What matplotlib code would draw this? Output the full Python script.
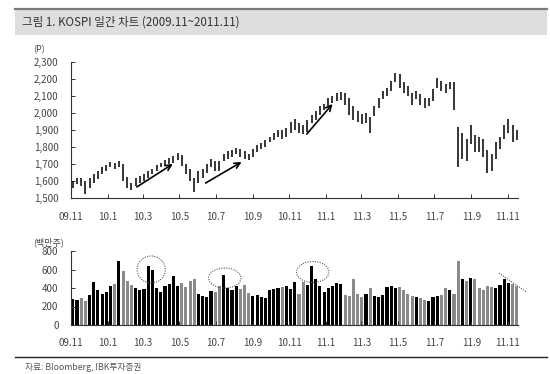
import numpy as np
import pandas as pd
import matplotlib
matplotlib.use("Agg")
import matplotlib.pyplot as plt
import matplotlib.dates as mdates
from matplotlib.patches import Ellipse, Rectangle
from matplotlib.lines import Line2D
from matplotlib.ticker import FuncFormatter

plt.rcParams['font.family'] = ['Noto Sans CJK KR', 'DejaVu Sans']

# weekly KOSPI high / low (pt), weeks starting 2009-11-02
week_start = pd.date_range("2009-11-02", periods=107, freq="7D")

week_high = [
    1600, 1620, 1615, 1600, 1620, 1640, 1660, 1680, 1695, 1710,   # 09.11 - 10.1
    1705, 1720, 1700, 1625, 1590, 1620, 1630, 1640, 1660, 1670,   # 10.1 - 10.3
    1695, 1705, 1725, 1735, 1745, 1765, 1755, 1700, 1670, 1620,   # 10.3 - 10.5
    1660, 1670, 1700, 1730, 1720, 1715, 1760, 1775, 1785, 1795,   # 10.6 - 10.8
    1790, 1775, 1760, 1790, 1810, 1825, 1840, 1860, 1880, 1900,   # 10.8 - 10.10
    1900, 1910, 1945, 1965, 1940, 1930, 1960, 1990, 2010, 2040,   # 10.10 - 10.12
    2055, 2090, 2100, 2115, 2125, 2120, 2090, 2040, 2010, 1995,   # 10.12 - 11.2
    2000, 1975, 2040, 2090, 2130, 2150, 2190, 2235, 2230, 2180,   # 11.3 - 11.5
    2160, 2120, 2130, 2110, 2090, 2090, 2140, 2205, 2190, 2170,   # 11.5 - 11.7
    2185, 2180, 1920, 1880, 1850, 1930, 1870, 1860, 1850, 1780,   # 11.7 - 11.9
    1760, 1830, 1860, 1930, 1965, 1930, 1900,                     # 11.10 - 11.11
]

week_low = [
    1560, 1580, 1570, 1525, 1560, 1590, 1610, 1640, 1660, 1680,
    1670, 1680, 1600, 1560, 1545, 1570, 1590, 1600, 1620, 1640,
    1660, 1680, 1690, 1700, 1705, 1725, 1690, 1640, 1600, 1535,
    1590, 1620, 1650, 1680, 1660, 1660, 1720, 1730, 1740, 1760,
    1740, 1730, 1725, 1740, 1770, 1790, 1800, 1830, 1840, 1860,
    1850, 1860, 1880, 1900, 1880, 1875, 1890, 1940, 1960, 1990,
    2020, 2040, 2060, 2070, 2075, 2050, 1990, 1960, 1950, 1935,
    1940, 1885, 1980, 2030, 2080, 2100, 2130, 2180, 2150, 2120,
    2100, 2045, 2080, 2050, 2030, 2040, 2070, 2150, 2130, 2120,
    2140, 2020, 1685, 1730, 1720, 1820, 1770, 1770, 1740, 1650,
    1660, 1730, 1790, 1850, 1880, 1830, 1840,
]

# weekly trading volume (million shares)
week_volume = [
    280, 270, 290, 260, 320, 470, 380, 330, 360, 420,
    440, 690, 580, 480, 430, 400, 380, 390, 640, 600,
    400, 360, 420, 440, 530, 420, 450, 410, 480, 500,
    330, 310, 300, 370, 360, 420, 540, 400, 380, 420,
    390, 430, 350, 310, 320, 300, 290, 380, 390, 400,
    410, 420, 390, 460, 330, 460, 430, 640, 500, 420,
    360, 400, 420, 450, 440, 320, 310, 500, 330, 300,
    340, 400, 310, 300, 320, 410, 420, 400, 410, 380,
    330, 310, 300, 290, 270, 260, 300, 310, 320, 400,
    380, 330, 690, 500, 480, 510, 500, 400, 380, 420,
    410, 400, 430, 500, 450, 440, 420,
]

price_ticks = [1500, 1600, 1700, 1800, 1900, 2000, 2100, 2200, 2300]
volume_ticks = [0, 200, 400, 600, 800]
month_ticks = pd.date_range("2009-11-01", "2011-11-01", freq="2MS")

title = "그림 1. KOSPI 일간 차트 (2009.11~2011.11)"
source = "자료: Bloomberg, IBK투자증권"

W, H = 550, 374
fig = plt.figure(figsize=(W / 100, H / 100), dpi=100)
fig.patch.set_facecolor("white")

# title band
fig.add_artist(Rectangle((15 / W, 1 - 35 / H), 532 / W, 26 / H,
                         transform=fig.transFigure, facecolor="#dedede",
                         edgecolor="none"))
fig.add_artist(Line2D([15 / W, 547 / W], [1 - 9 / H, 1 - 9 / H],
                      transform=fig.transFigure, color="#7a7a7a", lw=1.6))
fig.text(22 / W, 1 - 22 / H, title, fontsize=8.3, color="#333333",
         va="center", ha="left")

# bottom rule and source
fig.add_artist(Line2D([15 / W, 547 / W], [1 - 357 / H, 1 - 357 / H],
                      transform=fig.transFigure, color="#222222", lw=1.0))
fig.text(25 / W, 1 - 367 / H, source, fontsize=6.3, color="#555555",
         va="center", ha="left")

xmin = pd.Timestamp("2009-11-01")
xmax = pd.Timestamp("2011-11-18")
date_fmt = FuncFormatter(lambda v, p: mdates.num2date(v).strftime("%y.%-m"))


def style_axes(ax):
    for side in ("top", "right"):
        ax.spines[side].set_visible(False)
    for side in ("left", "bottom"):
        ax.spines[side].set_color("#333333")
        ax.spines[side].set_linewidth(0.8)
    ax.set_xlim(xmin, xmax)
    ax.set_xticks(month_ticks)
    ax.xaxis.set_major_formatter(date_fmt)
    ax.tick_params(axis="both", direction="in", length=3, width=0.7,
                   colors="#333333", labelsize=7, labelcolor="#444444")
    ax.tick_params(axis="y", pad=9)
    ax.tick_params(axis="x", pad=10)


# price chart
ax1 = fig.add_axes([71 / W, 1 - 198 / H, 447 / W, 136 / H])
style_axes(ax1)
x_mid = week_start + pd.Timedelta(days=2)
ax1.vlines(x_mid, week_low, week_high, color="black", lw=1.1)
ax1.set_ylim(1500, 2300)
ax1.set_yticks(price_ticks)
ax1.yaxis.set_major_formatter(FuncFormatter(lambda v, p: f"{int(v):,}"))
ax1.text(-0.085, 1.09, "(P)", transform=ax1.transAxes, fontsize=6.5,
         color="#444444", ha="left", va="center")

arrows = [
    (("2010-02-19", 1565), ("2010-04-20", 1700)),
    (("2010-06-14", 1588), ("2010-08-13", 1712)),
    (("2010-11-30", 1876), ("2011-01-12", 2053)),
]
for (d0, v0), (d1, v1) in arrows:
    ax1.annotate("", xy=(pd.Timestamp(d1), v1), xytext=(pd.Timestamp(d0), v0),
                 arrowprops=dict(arrowstyle="->", color="black", lw=1.2,
                                 shrinkA=0, shrinkB=0))

# volume chart
ax2 = fig.add_axes([71 / W, 1 - 325 / H, 447 / W, 74 / H])
style_axes(ax2)
ax2.tick_params(axis="x", pad=9)
mid = (np.array(week_high) + np.array(week_low)) / 2
vol_colors = ["black"] + ["#8a8a8a" if mid[i] < mid[i - 1] else "black"
                          for i in range(1, len(mid))]
ax2.bar(x_mid, week_volume, width=5.2, color=vol_colors, linewidth=0)
ax2.set_ylim(0, 800)
ax2.set_yticks(volume_ticks)
ax2.text(-0.085, 1.12, "(백만주)", transform=ax2.transAxes, fontsize=6.5,
         color="#444444", ha="left", va="center")

# dotted highlights
circles = [
    ("2010-03-15", 600, 47, 292),
    ("2010-07-16", 508, 54, 216),
    ("2010-12-10", 573, 54, 227),
]
for d, v, w_days, h in circles:
    ax2.add_patch(Ellipse((mdates.date2num(pd.Timestamp(d)), v), w_days, h,
                          fill=False, ls=(0, (1, 1.2)), lw=0.8,
                          edgecolor="#555555", clip_on=False))
ax2.plot([pd.Timestamp("2011-10-17"), pd.Timestamp("2011-12-02")], [562, 357],
         ls=(0, (1, 1.2)), lw=0.8, color="#555555", clip_on=False)

fig.savefig("out.png", dpi=100)
